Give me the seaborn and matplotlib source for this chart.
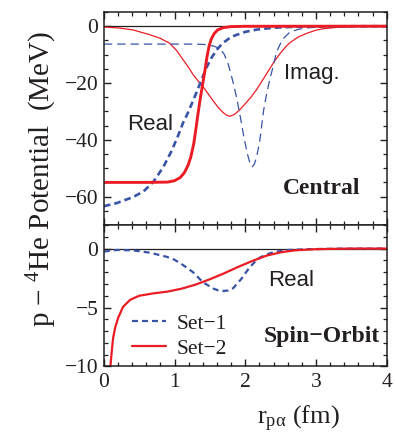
import matplotlib
matplotlib.use("Agg")
import matplotlib.pyplot as plt
from matplotlib.ticker import MultipleLocator
import seaborn as sns

# ---------------- data ----------------
# Central potential, Set-2 real (thick red)
c2_re_r = [0, 0.6, 0.9, 1.0, 1.08, 1.14, 1.19, 1.23, 1.27, 1.30, 1.33, 1.36, 1.40,
           1.43, 1.46, 1.49, 1.52, 1.56, 1.61, 1.69, 1.8, 2.0, 4.0]
c2_re_v = [-55, -55, -54.9, -54.4, -53.3, -51.5, -49, -46, -41.5, -36.5, -31, -26, -20,
           -15.5, -10.5, -6.8, -4.5, -2.6, -1.3, -0.5, -0.15, -0.03, 0]
# Central potential, Set-2 imaginary (thin red)
c2_im_r = [0, 0.2, 0.41, 0.65, 0.8, 0.93, 1.03, 1.12, 1.2, 1.26, 1.33, 1.40, 1.48, 1.55,
           1.62, 1.69, 1.74, 1.78, 1.84, 1.92, 2.0, 2.08, 2.16, 2.24, 2.32, 2.40, 2.48,
           2.56, 2.63, 2.75, 2.87, 3.0, 3.1, 3.3, 3.5, 3.8, 4.0]
c2_im_v = [-0.3, -0.6, -1.3, -3.0, -4.3, -6, -8.6, -11.8, -14.6, -17, -19.2, -21.2, -24,
           -26.4, -28.7, -30.5, -31.4, -31.7, -31.2, -29.5, -27.3, -25, -22.3, -19.2, -16,
           -12.8, -10, -7.6, -5.8, -3.8, -2.5, -1.4, -0.9, -0.4, -0.15, -0.05, 0]
# Central potential, Set-1 real (thick blue dashed)
c1_re_r = [0, 0.18, 0.41, 0.56, 0.70, 0.84, 0.96, 1.05, 1.12, 1.17, 1.24, 1.31, 1.38,
           1.45, 1.52, 1.60, 1.68, 1.76, 1.85, 2.0, 2.16, 2.40, 2.7, 3.0, 3.5, 4.0]
c1_re_v = [-63.4, -62.3, -60.2, -58.2, -54.8, -49.6, -43.8, -38.5, -34, -31.5, -27.5,
           -23.3, -19, -14.6, -11.2, -8.2, -6.0, -4.5, -3.3, -2.0, -1.2, -0.55, -0.2,
           -0.08, -0.02, 0]
# Central potential, Set-1 imaginary (thin blue dashed)
c1_im_r = [0, 1.0, 1.3, 1.45, 1.55, 1.64, 1.70, 1.76, 1.82, 1.88, 1.93, 1.98, 2.03,
           2.07, 2.10, 2.13, 2.16, 2.20, 2.23, 2.26, 2.30, 2.34, 2.37, 2.41, 2.44, 2.49,
           2.54, 2.63, 2.75, 2.87, 3.1, 3.5, 4.0]
c1_im_v = [-6.3, -6.3, -6.3, -6.5, -7.0, -7.8, -9.8, -13.5, -19, -25.5, -32, -39, -45,
           -48.5, -49.5, -48.5, -46, -41.2, -35.3, -29.5, -24, -19.5, -16.5, -12.5, -9.2,
           -6.5, -4.3, -2.1, -1.1, -0.6, -0.2, -0.05, 0]
# Spin-orbit potential, Set-1 (blue dashed)
so1_r = [0, 0.18, 0.41, 0.65, 0.89, 1.0, 1.12, 1.26, 1.40, 1.55, 1.62, 1.69, 1.76,
         1.83, 1.94, 2.06, 2.14, 2.21, 2.30, 2.40, 2.6, 2.9, 3.3, 4.0]
so1_v = [-0.25, -0.12, -0.15, -0.35, -0.7, -0.95, -1.4, -2.0, -2.85, -3.4, -3.55, -3.6,
         -3.55, -3.35, -2.6, -1.6, -1.1, -0.75, -0.5, -0.3, -0.12, -0.05, -0.01, 0]
# Spin-orbit potential, Set-2 (red solid)
so2_r = [0.08, 0.11, 0.13, 0.16, 0.20, 0.27, 0.37, 0.5, 0.7, 0.9, 1.1, 1.3, 1.5, 1.7,
         1.9, 2.1, 2.3, 2.5, 2.7, 3.0, 3.5, 4.0]
so2_v = [-10.8, -8.8, -7.6, -6.7, -5.9, -4.95, -4.35, -4.0, -3.8, -3.65, -3.4, -3.05,
         -2.6, -2.1, -1.55, -1.05, -0.6, -0.32, -0.15, -0.05, 0, 0]

x_ticks = [0, 1, 2, 3, 4]
top_yticks = [0, -20, -40, -60]
bot_yticks = [0, -5, -10]
series_labels = ["Set\u22121", "Set\u22122"]

RED = "#ec1c24"
BLUE = "#3a54a5"
INK = "#231f20"
SERIF = ["Liberation Serif", "DejaVu Serif"]
SANS = ["Liberation Sans", "DejaVu Sans"]

# ---------------- style ----------------
sns.set_theme(style="ticks")
plt.rcParams.update({
    "font.family": SERIF,
    "mathtext.fontset": "custom",
    "mathtext.rm": "Liberation Serif",
    "mathtext.it": "Liberation Serif:italic",
    "mathtext.bf": "Liberation Serif:bold",
    "lines.scale_dashes": False,
    "axes.linewidth": 1.1,
    "axes.edgecolor": INK,
    "xtick.color": INK, "ytick.color": INK,
    "xtick.labelcolor": INK, "ytick.labelcolor": INK,
    "xtick.direction": "in", "ytick.direction": "in",
    "xtick.top": True, "ytick.right": True,
    "xtick.major.size": 5, "ytick.major.size": 5,
    "xtick.minor.size": 2.6, "ytick.minor.size": 2.6,
    "xtick.major.width": 1.0, "ytick.major.width": 1.0,
    "xtick.minor.width": 0.9, "ytick.minor.width": 0.9,
    "xtick.labelsize": 15.5, "ytick.labelsize": 15.5,
    "xtick.major.pad": 5, "ytick.major.pad": 4,
})

fig = plt.figure(figsize=(3.95, 4.33), dpi=100)
L, R = 0.263, 0.979
ax1 = fig.add_axes([L, 0.4804, R - L, 0.9723 - 0.4804])
ax2 = fig.add_axes([L, 0.1536, R - L, 0.4804 - 0.1536])

# ---------------- top: central ----------------
ax1.axhline(0, color=INK, lw=0.9, zorder=1)
sns.lineplot(x=c2_im_r, y=c2_im_v, ax=ax1, color=RED, lw=0.9, estimator=None, sort=False)
sns.lineplot(x=c1_im_r, y=c1_im_v, ax=ax1, color=BLUE, lw=0.9, estimator=None, sort=False,
             linestyle=(0, (6, 3.6)))
sns.lineplot(x=c1_re_r, y=c1_re_v, ax=ax1, color=BLUE, lw=1.9, estimator=None, sort=False,
             linestyle=(0, (4.8, 2.9)))
sns.lineplot(x=c2_re_r, y=c2_re_v, ax=ax1, color=RED, lw=2.1, estimator=None, sort=False)

ax1.set_xlim(0, 4)
ax1.set_ylim(-70, 5)
ax1.set_xticks(x_ticks)
ax1.set_yticks(top_yticks)
ax1.xaxis.set_minor_locator(MultipleLocator(0.2))
ax1.yaxis.set_minor_locator(MultipleLocator(5))
ax1.tick_params(which="both", labelbottom=False, top=True, right=True)
ax1.set_xlabel("")
ax1.set_ylabel("")

ax1.text(0.66, -34.7, "Real", family=SANS, fontsize=16, color=INK, ha="center", va="center")
ax1.text(2.94, -16.6, "Imag.", family=SANS, fontsize=16, color=INK, ha="center", va="center")
ax1.text(3.08, -57.2, "Central", family=SERIF, fontsize=17, fontweight="bold", color=INK,
         ha="center", va="center")

# ---------------- bottom: spin-orbit ----------------
ax2.axhline(0, color=INK, lw=0.9, zorder=1)
sns.lineplot(x=so1_r, y=so1_v, ax=ax2, color=BLUE, lw=1.6, estimator=None, sort=False,
             linestyle=(0, (4.3, 2.9)), label=series_labels[0])
sns.lineplot(x=so2_r, y=so2_v, ax=ax2, color=RED, lw=1.6, estimator=None, sort=False,
             label=series_labels[1])

ax2.set_xlim(0, 4)
ax2.set_ylim(-10, 2)
ax2.set_xticks(x_ticks)
ax2.set_yticks(bot_yticks)
ax2.xaxis.set_minor_locator(MultipleLocator(0.2))
ax2.yaxis.set_minor_locator(MultipleLocator(1))
ax2.tick_params(which="both", top=True, right=True)
ax2.set_ylabel("")

ax2.text(2.65, -2.67, "Real", family=SANS, fontsize=16, color=INK, ha="center", va="center")
ax2.text(3.08, -7.47, "Spin\u2212Orbit", family=SERIF, fontsize=17, fontweight="bold",
         color=INK, ha="center", va="center")

leg = ax2.legend(loc="lower left", bbox_to_anchor=(0.098, 0.055), frameon=False,
                 borderpad=0, borderaxespad=0, handlelength=1.6, handletextpad=0.5,
                 labelspacing=0.22, prop={"family": SERIF, "size": 15.5})
for t in leg.get_texts():
    t.set_color(INK)

for a in (ax1, ax2):
    for lbl in a.get_xticklabels() + a.get_yticklabels():
        lbl.set_family(SERIF)

ax2.set_xlabel(r"r$_{\mathrm{p\alpha}}$ (fm)", fontsize=19, color=INK, ha="center",
               va="center")
ax2.xaxis.set_label_coords(0.688, -0.37)

fig.text(0.1056, 0.5866, r"p $-$ $^{4}$He Potential  (MeV)", rotation=90, fontsize=21,
         color=INK, ha="center", va="center")

fig.savefig("out.png", dpi=100)
